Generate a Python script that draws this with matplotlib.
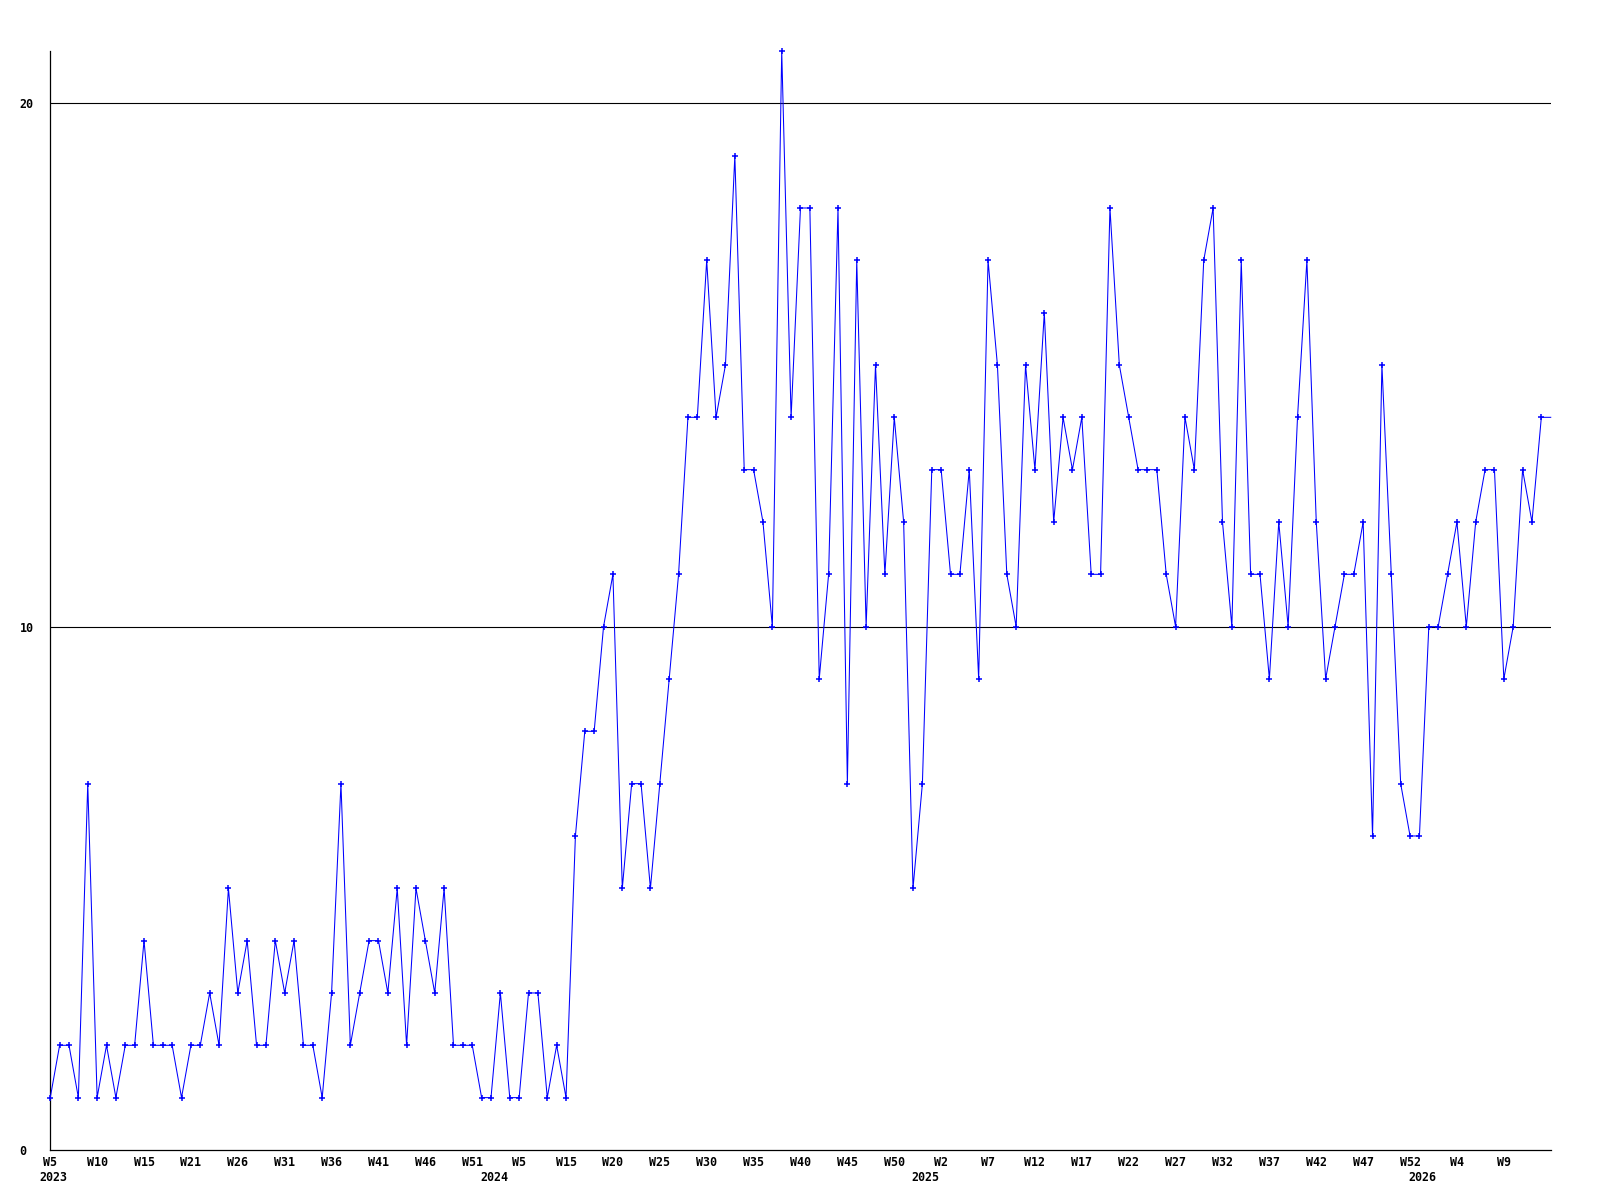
import matplotlib
matplotlib.use("Agg")
import matplotlib.pyplot as plt
from matplotlib.transforms import offset_copy

# weekly counts, one value per point
counts = [
    1, 2, 2, 1, 7, 1, 2, 1, 2, 2, 4, 2, 2, 2, 1, 2, 2, 3, 2, 5, 3, 4, 2, 2, 4, 3, 4, 2, 2, 1, 3, 7, 2,
    3, 4, 4, 3, 5, 2, 5, 4, 3, 5, 2, 2, 2, 1, 1, 3, 1, 1, 3, 3, 1, 2, 1, 6,
    8, 8, 10, 11, 5, 7, 7, 5, 7, 9, 11, 14, 14, 17, 14, 15, 19, 13, 13, 12, 10, 21, 14, 18, 18, 9, 11,
    18, 7, 17, 10, 15, 11, 14, 12, 5, 7, 13, 13, 11, 11, 13, 9, 17, 15, 11, 10, 15, 13, 16, 12, 14, 13, 14,
    11, 11, 18, 15, 14, 13, 13, 13, 11, 10, 14, 13, 17, 18, 12, 10, 17, 11, 11, 9, 12, 10, 14, 17, 12, 9,
    10, 11, 11, 12, 6, 15, 11, 7, 6, 6, 10, 10, 11, 12, 10, 12, 13, 13, 9, 10, 13, 12, 14, 14,
]

week_labels = ["W5", "W10", "W15", "W21", "W26", "W31", "W36", "W41", "W46", "W51",
               "W5", "W15", "W20", "W25", "W30", "W35", "W40", "W45", "W50", "W2",
               "W7", "W12", "W17", "W22", "W27", "W32", "W37", "W42", "W47", "W52",
               "W4", "W9"]
label_step = 5

years = ["2023", "2024", "2025", "2026"]
year_starts = [0, 47, 93, 146]

gridlines = [10, 20]

x = list(range(len(counts)))

fig = plt.figure(figsize=(16, 12), dpi=100)
ax = fig.add_axes([0.0314, 0.0417, 0.9378, 0.9158])

for g in gridlines:
    ax.axhline(g, color="black", linewidth=0.8, zorder=1)

ax.plot(x, counts, color="#0000ff", linewidth=0.75, zorder=3, clip_on=False)
# last value only continues the line to the edge, no marker drawn there
ax.plot(x[:-1], counts[:-1], linestyle="none", marker="+", markersize=3.8,
        markeredgewidth=1.1, color="#0000ff", zorder=4, clip_on=False)

ax.set_xlim(0, len(counts) - 1)
ax.set_ylim(0, 21)

ax.spines["top"].set_visible(False)
ax.spines["right"].set_visible(False)
ax.spines["left"].set_linewidth(0.9)
ax.spines["bottom"].set_linewidth(0.9)

mono = {"family": "DejaVu Sans Mono", "weight": "bold", "size": 8.4}

ax.set_xticks(range(0, len(week_labels) * label_step, label_step))
ax.set_xticklabels(week_labels, fontdict=mono)
ax.tick_params(axis="x", length=0, pad=4.5)

ax.set_yticks([0] + gridlines)
ax.set_yticklabels(["0"] + [str(g) for g in gridlines], fontdict=mono, ha="left")
ax.tick_params(axis="y", length=0, pad=22)

for yr, start in zip(years, year_starts):
    trans = offset_copy(ax.get_xaxis_transform(), fig=fig, x=-11, y=-21, units="dots")
    ax.text(start, 0, yr, transform=trans, ha="left", va="top", **mono)

fig.savefig("out.png", dpi=100, facecolor="white")
